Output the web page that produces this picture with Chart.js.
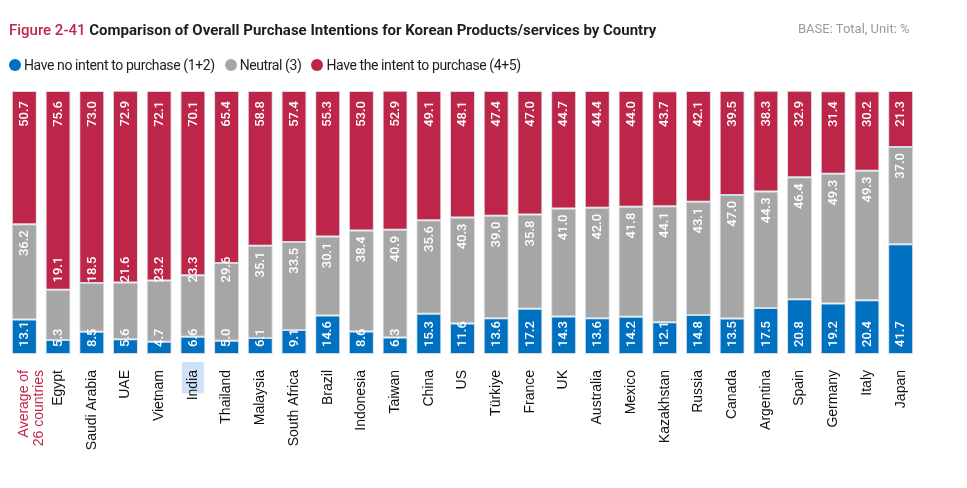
<!DOCTYPE html>
<html>
<head>
<meta charset="utf-8">
<script src="https://cdn.jsdelivr.net/npm/chart.js@4.4.0/dist/chart.umd.min.js"></script>
<style>
  html,body{margin:0;padding:0;background:#fff;}
  #wrap{position:relative;width:967px;height:488px;overflow:hidden;}
  #title{position:absolute;left:9px;top:21px;font-family:Roboto,sans-serif;font-size:15px;white-space:nowrap;letter-spacing:0px;}
  #title .fig{color:#be2649;font-weight:500;}
  #title .main{color:#1e1e1e;font-weight:700;}
  #base{position:absolute;left:798px;top:21px;font-family:Roboto,sans-serif;font-size:13px;color:#9a9a9a;white-space:nowrap;}
  #legend{position:absolute;left:9px;top:57px;font-family:Roboto,sans-serif;font-size:14px;color:#1e1e1e;white-space:nowrap;letter-spacing:-0.4px;}
  #legend .item{display:inline-flex;align-items:center;margin-right:10px;}
  #legend .dot{display:inline-block;width:12px;height:12px;border-radius:50%;margin-right:3px;}
  canvas{position:absolute;left:0;top:0;}
</style>
</head>
<body>
<div id="wrap">
  <canvas id="c" width="967" height="488"></canvas>
  <div id="title"><span class="fig">Figure 2-41</span> <span class="main">Comparison of Overall Purchase Intentions for Korean Products/services by Country</span></div>
  <div id="base">BASE: Total, Unit: %</div>
  <div id="legend"></div>
</div>
<script>
const categories = [["Average of","26 countries"],"Egypt","Saudi Arabia","UAE","Vietnam","India","Thailand","Malaysia","South Africa","Brazil","Indonesia","Taiwan","China","US","Türkiye","France","UK","Australia","Mexico","Kazakhstan","Russia","Canada","Argentina","Spain","Germany","Italy","Japan"];
const seriesNames = ["Have no intent to purchase (1+2)","Neutral (3)","Have the intent to purchase (4+5)"];
const noIntent = [13.1,5.3,8.5,5.6,4.7,6.6,5.0,6.1,9.1,14.6,8.6,6.3,15.3,11.6,13.6,17.2,14.3,13.6,14.2,12.1,14.8,13.5,17.5,20.8,19.2,20.4,41.7];
const neutral  = [36.2,19.1,18.5,21.6,23.2,23.3,29.6,35.1,33.5,30.1,38.4,40.9,35.6,40.3,39.0,35.8,41.0,42.0,41.8,44.1,43.1,47.0,44.3,46.4,49.3,49.3,37.0];
const intent   = [50.7,75.6,73.0,72.9,72.1,70.1,65.4,58.8,57.4,55.3,53.0,52.9,49.1,48.1,47.4,47.0,44.7,44.4,44.0,43.7,42.1,39.5,38.3,32.9,31.4,30.2,21.3];

const BLUE = '#0070c0', GRAY = '#a6a6a6', RED = '#be2649';
const colors = [BLUE, GRAY, RED];

// HTML legend
const lg = document.getElementById('legend');
seriesNames.forEach((n,i)=>{
  const s = document.createElement('span'); s.className='item';
  s.innerHTML = '<span class="dot" style="background:'+colors[i]+'"></span>'+n;
  lg.appendChild(s);
});

const valueLabels = {
  id:'valueLabels',
  afterDatasetsDraw(chart){
    const ctx = chart.ctx, ys = chart.scales.y;
    chart.data.datasets.forEach((ds,di)=>{
      const meta = chart.getDatasetMeta(di);
      meta.data.forEach((el,i)=>{
        const txt = ds.data[i].toFixed(1);
        let ay, align;
        if (di === 0) { ay = el.base - 7; align = 'left'; }
        else if (di === 1) { ay = Math.min(el.y + 6, ys.getPixelForValue(37)); align = 'right'; }
        else { ay = el.y + 10; align = 'right'; }
        ctx.save();
        ctx.fillStyle = '#ffffff';
        ctx.font = '500 13px Roboto';
        ctx.textBaseline = 'middle';
        ctx.textAlign = align;
        ctx.translate(el.x + 0.5, ay);
        ctx.rotate(-Math.PI/2);
        ctx.fillText(txt, 0, 0);
        ctx.restore();
      });
    });
  }
};

const highlight = {
  id:'highlight',
  beforeDraw(chart){
    const xs = chart.scales.x, ctx = chart.ctx;
    const idx = categories.indexOf('India');
    const x = xs.getPixelForTick(idx);
    ctx.save();
    ctx.font = '14px "Liberation Sans", Arial, sans-serif';
    const w = ctx.measureText('India').width;
    ctx.fillStyle = '#cfe2fa';
    ctx.fillRect(x - 11, chart.chartArea.bottom + 8, 22, w + 1);
    ctx.restore();
  }
};

new Chart(document.getElementById('c'), {
  type:'bar',
  data:{
    labels: categories,
    datasets:[
      {label:seriesNames[0], data:noIntent, backgroundColor:BLUE},
      {label:seriesNames[1], data:neutral, backgroundColor:GRAY},
      {label:seriesNames[2], data:intent, backgroundColor:RED}
    ].map(d=>Object.assign(d,{borderColor:'#d5dbe4',borderWidth:1,borderSkipped:false,barPercentage:0.742,categoryPercentage:1}))
  },
  options:{
    responsive:false,
    animation:false,
    devicePixelRatio:1,
    layout:{padding:{left:7.5,right:49.5,top:91,bottom:0}},
    plugins:{legend:{display:false},tooltip:{enabled:false},title:{display:false}},
    scales:{
      x:{
        stacked:true,
        grid:{display:false},
        border:{display:false},
        afterFit(s){ s.height = 134; },
        ticks:{
          autoSkip:false, minRotation:90, maxRotation:90, padding:8,
          font:{family:'"Liberation Sans", Arial, sans-serif', size:14, lineHeight:1.05},
          color:(c)=> c.index===0 ? RED : '#111111'
        }
      },
      y:{stacked:true, display:false, min:0, max:100}
    }
  },
  plugins:[highlight, valueLabels]
});
</script>
</body>
</html>
